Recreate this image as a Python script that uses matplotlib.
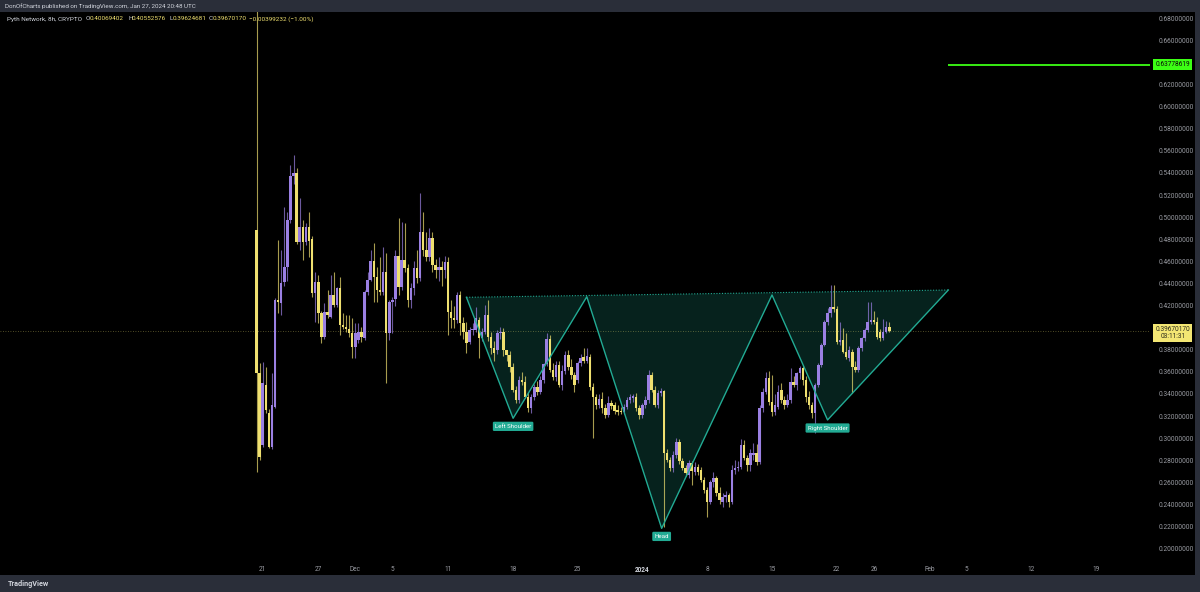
import matplotlib
matplotlib.use("Agg")
import matplotlib.pyplot as plt
import matplotlib.dates as mdates
import matplotlib.transforms as mtransforms
from matplotlib.patches import Rectangle
import numpy as np
import pandas as pd

plt.rcParams['font.family'] = ['Roboto', 'DejaVu Sans']

# ---- data: Pyth Network 8h candles ----
bar_times = pd.date_range("2023-11-20 08:00", periods=206, freq="8h")

opens = [
    .4884, .3587, .2938, .3481, .3228, .2923, .3285, .4251, .4224, .4416,
    .4552, .4975, .5374, .5397, .4778, .4914, .4778, .4914, .4800, .4311,
    .4416, .4130, .3919, .4145, .4100, .4296, .4206, .4356, .4024, .4010,
    .3990, .3949, .3828, .3889, .3964, .3904, .4326, .4432, .4604, .4462,
    .4341, .4326, .4507, .3955, .4236, .4257, .4649, .4371, .4613, .4537,
    .4251, .4356, .4537, .4450, .4869, .4703, .4643, .4810, .4567, .4522,
    .4552, .4522, .4597, .4145, .4085, .4070, .4296, .4040, .3964, .3874,
    .3979, .3979, .4070, .3904, .3964, .4115, .3919, .3813, .3798, .3949,
    .3964, .3798, .3753, .3647, .3437, .3346, .3527, .3512, .3376, .3271,
    .3376, .3466, .3421, .3527, .3670, .3895, .3618, .3550, .3660, .3482,
    .3610, .3753, .3647, .3570, .3527, .3678, .3738, .3700, .3738, .3466,
    .3376, .3300, .3357, .3271, .3210, .3318, .3300, .3250, .3246, .3240,
    .3286, .3346, .3361, .3376, .3271, .3210, .3300, .3346, .3572, .3437,
    .3300, .3410, .3425, .2866, .2803, .2728, .2848, .2969, .2790, .2728,
    .2668, .2773, .2697, .2742, .2712, .2621, .2532, .2426, .2600, .2640,
    .2501, .2426, .2471, .2486, .2426, .2712, .2728, .2742, .2938, .2818,
    .2757, .2850, .2863, .2787, .3270, .3421, .3542, .3331, .3240, .3285,
    .3436, .3346, .3301, .3346, .3511, .3482, .3587, .3632, .3527, .3376,
    .3301, .3225, .3482, .3662, .3844, .4054, .4130, .4190, .4166, .3873,
    .3889, .3783, .3723, .3783, .3647, .3617, .3813, .3904, .3979, .4054,
    .4070, .4054, .3964, .3904, .3964, .4007,
]
highs = [
    .7200, .3680, .3690, .3647, .3260, .3590, .4268, .4794, .4703, .5095,
    .5050, .5472, .5563, .5445, .5174, .4975, .4950, .5050, .4830, .4507,
    .4477, .4150, .4221, .4341, .4477, .4507, .4372, .4462, .4130, .4115,
    .4115, .4085, .4040, .4040, .4010, .4341, .4507, .4703, .4763, .4552,
    .4643, .4733, .4673, .4251, .4280, .4700, .4990, .4960, .4945, .4580,
    .4400, .4600, .4700, .5216, .5050, .4870, .4900, .4870, .4620, .4640,
    .4600, .4650, .4640, .4250, .4200, .4320, .4330, .4100, .4050, .4010,
    .4040, .4190, .4100, .4000, .4206, .4251, .3960, .3880, .3980, .4010,
    .4000, .3800, .3790, .3680, .3470, .3560, .3600, .3560, .3420, .3400,
    .3490, .3520, .3560, .3680, .3949, .3930, .3680, .3700, .3700, .3660,
    .3790, .3800, .3720, .3600, .3700, .3760, .3813, .3813, .3760, .3500,
    .3400, .3400, .3420, .3310, .3380, .3350, .3330, .3300, .3280, .3310,
    .3370, .3400, .3400, .3410, .3300, .3320, .3380, .3618, .3600, .3470,
    .3440, .3450, .3440, .2900, .2830, .2880, .3000, .2990, .2820, .2760,
    .2800, .2790, .2780, .2770, .2740, .2650, .2560, .2620, .2690, .2660,
    .2560, .2500, .2520, .2500, .2760, .2800, .2790, .2990, .2980, .2850,
    .2900, .2960, .2950, .3300, .3450, .3600, .3610, .3572, .3400, .3480,
    .3500, .3380, .3400, .3632, .3560, .3600, .3650, .3660, .3560, .3430,
    .3330, .3500, .3680, .3860, .4070, .4180, .4386, .4386, .4200, .4050,
    .4000, .3950, .3830, .3810, .3700, .3830, .3920, .4000, .4235, .4235,
    .4150, .4100, .3990, .4080, .4060, .4055,
]
lows = [
    .2696, .2803, .2923, .3228, .2910, .2900, .3270, .4133, .4115, .4380,
    .4420, .4950, .5300, .4760, .4703, .4613, .4750, .4643, .4281, .4054,
    .4040, .3859, .3900, .4085, .4085, .4190, .4190, .3934, .3990, .3960,
    .3919, .3723, .3723, .3860, .3874, .3890, .4300, .4420, .4236, .4236,
    .4300, .4300, .3497, .3889, .3950, .4200, .4300, .4341, .4500, .4190,
    .4180, .4300, .4400, .4420, .4650, .4600, .4600, .4500, .4450, .4420,
    .4380, .4450, .3934, .4000, .4000, .4040, .3934, .3900, .3768, .3850,
    .3930, .3960, .3725, .3880, .3940, .3880, .3760, .3700, .3760, .3900,
    .3740, .3700, .3600, .3420, .3318, .3320, .3480, .3360, .3240, .3230,
    .3350, .3390, .3400, .3500, .3650, .3600, .3530, .3520, .3460, .3440,
    .3580, .3620, .3540, .3420, .3500, .3650, .3680, .3680, .3440, .3000,
    .3260, .3270, .3230, .3180, .3190, .3260, .3220, .3210, .3220, .3220,
    .3260, .3320, .3330, .3250, .3170, .3180, .3270, .3320, .3420, .3280,
    .3270, .3380, .2200, .2780, .2700, .2690, .2820, .2770, .2710, .2660,
    .2640, .2577, .2670, .2670, .2600, .2500, .2290, .2400, .2560, .2480,
    .2400, .2380, .2420, .2380, .2400, .2680, .2700, .2720, .2800, .2700,
    .2700, .2800, .2760, .2770, .3240, .3400, .3300, .3200, .3210, .3260,
    .3320, .3260, .3280, .3320, .3460, .3440, .3540, .3480, .3330, .3260,
    .3180, .3044, .3460, .3640, .3830, .4020, .4100, .4140, .3850, .3840,
    .3770, .3720, .3700, .3406, .3600, .3600, .3790, .3880, .3960, .4030,
    .4030, .3900, .3880, .3890, .3950, .3962,
]
closes = [
    .3587, .2833, .3497, .3255, .2923, .3300, .4251, .4233, .4405, .4552,
    .4975, .5374, .5397, .4778, .4914, .4778, .4914, .4787, .4311, .4416,
    .4130, .3919, .4145, .4115, .4296, .4206, .4356, .4024, .4010, .3990,
    .3949, .3828, .3949, .3964, .3919, .4326, .4432, .4604, .4462, .4341,
    .4326, .4507, .3955, .4236, .4250, .4649, .4371, .4613, .4537, .4251,
    .4356, .4537, .4450, .4869, .4703, .4643, .4810, .4567, .4522, .4552,
    .4522, .4597, .4145, .4085, .4070, .4296, .4040, .3964, .3859, .3979,
    .3989, .4085, .3904, .3964, .4115, .3919, .3813, .3770, .3949, .3964,
    .3798, .3753, .3647, .3437, .3346, .3527, .3512, .3376, .3271, .3376,
    .3466, .3421, .3527, .3670, .3895, .3618, .3550, .3660, .3482, .3610,
    .3753, .3647, .3570, .3482, .3678, .3723, .3700, .3745, .3466, .3376,
    .3300, .3357, .3271, .3210, .3318, .3290, .3250, .3240, .3236, .3280,
    .3346, .3376, .3380, .3271, .3210, .3300, .3346, .3572, .3437, .3300,
    .3410, .3425, .2866, .2803, .2728, .2848, .2969, .2790, .2728, .2683,
    .2773, .2700, .2742, .2697, .2621, .2532, .2426, .2600, .2640, .2501,
    .2440, .2471, .2486, .2426, .2712, .2728, .2742, .2938, .2818, .2757,
    .2863, .2870, .2787, .3270, .3421, .3542, .3331, .3240, .3301, .3421,
    .3346, .3301, .3346, .3511, .3482, .3587, .3632, .3527, .3376, .3301,
    .3225, .3482, .3662, .3844, .4054, .4130, .4190, .4166, .3873, .3889,
    .3783, .3738, .3798, .3647, .3617, .3813, .3904, .3979, .4054, .4070,
    .4054, .3919, .3904, .3964, .4007, .3967,
]

# head & shoulders drawing
pattern_times = ["2023-12-13 00:00", "2023-12-18 01:00", "2023-12-26 00:00",
                 "2024-01-03 02:00", "2024-01-15 00:00", "2024-01-21 00:00",
                 "2024-02-03 01:00"]
pattern_prices = [0.4275, 0.3180, 0.4280, 0.2184, 0.4296, 0.3165, 0.4341]
pattern_labels = {1: "Left Shoulder", 3: "Head", 5: "Right Shoulder"}

target_price = 0.63778619
target_start = "2024-02-03 00:00"
last_price = 0.39670170

# 0.40 and 0.64 sit under the price labels, so they are left out
y_ticks = [0.20, 0.22, 0.24, 0.26, 0.28, 0.30, 0.32, 0.34, 0.36, 0.38,
           0.42, 0.44, 0.46, 0.48, 0.50, 0.52, 0.54, 0.56, 0.58, 0.60, 0.62,
           0.66, 0.68]
x_tick_dates = ["2023-11-21", "2023-11-27", "2023-12-01", "2023-12-05",
                "2023-12-11", "2023-12-18", "2023-12-25", "2024-01-01",
                "2024-01-08", "2024-01-15", "2024-01-22", "2024-01-26",
                "2024-02-01", "2024-02-05", "2024-02-12", "2024-02-19"]
x_tick_labels = ["21", "27", "Dec", "5", "11", "18", "25", "2024", "8", "15",
                 "22", "26", "Feb", "5", "12", "19"]

YELLOW = "#efe070"
PURPLE = "#9b80e3"
TEAL = "#22ab94"
GREEN = "#3cff14"
FRAME = "#2a2e39"
TXT = "#9a9ca3"

W, H = 1200, 592
fig = plt.figure(figsize=(12, 5.92), dpi=100, facecolor="black")
ax = fig.add_axes([0, 1 - 560 / H, 1150 / W, 548 / H])
ax.set_facecolor("black")

t = mdates.date2num(bar_times)
o = np.array(opens)
c = np.array(closes)
up = c >= o
cols = np.where(up, PURPLE, YELLOW)

ax.vlines(t, lows, highs, colors=cols, lw=0.8, alpha=0.7, zorder=2)
body = np.maximum(np.abs(c - o), 0.0012)
ax.bar(t, body, bottom=np.minimum(o, c), width=0.27, color=cols,
       linewidth=0, zorder=3)

# pattern
pt = mdates.date2num(pd.to_datetime(pattern_times))
ax.fill(pt, pattern_prices, color=TEAL, alpha=0.2, lw=0, zorder=1)
ax.plot(pt, pattern_prices, color=TEAL, lw=1.0, zorder=4)
ax.plot([pt[0], pt[-1]], [pattern_prices[0], pattern_prices[-1]], color=TEAL,
        lw=0.8, ls=(0, (1, 1.5)), zorder=4)
for i, name in pattern_labels.items():
    ax.annotate(name, (pt[i], pattern_prices[i]), xytext=(0, -5.8),
                textcoords="offset points", ha="center", va="center",
                fontsize=4.4, color="white", zorder=6,
                bbox=dict(boxstyle="round,pad=0.35,rounding_size=0.2",
                          fc=TEAL, ec="none"))

# target line
x0 = mdates.date2num(pd.Timestamp("2023-11-21")) - 262.7 / 9.26
x1 = mdates.date2num(pd.Timestamp("2023-11-21")) + (1150 - 262.7) / 9.26
ax.hlines(target_price, mdates.date2num(pd.Timestamp(target_start)), x1,
          color=GREEN, lw=1.3, zorder=4)

# last price line
ax.axhline(last_price, color=YELLOW, lw=0.6, alpha=0.45, ls=(0, (1, 2)),
           zorder=1)

ax.set_xlim(x0, x1)
ax.set_ylim(0.69656 - 0.000905 * 560, 0.69656 - 0.000905 * 12)

ax.yaxis.tick_right()
ax.set_yticks(y_ticks)
ax.set_yticklabels([f"{v:.8f}" for v in y_ticks])
ax.set_xticks(mdates.date2num(pd.to_datetime(x_tick_dates)))
ax.set_xticklabels(x_tick_labels)
ax.tick_params(axis="y", length=0, pad=6, labelsize=4.7, labelcolor=TXT)
ax.tick_params(axis="x", length=0, pad=4.2, labelsize=4.7, labelcolor=TXT)
for lab in ax.get_xticklabels():
    if lab.get_text() == "2024":
        lab.set_color("#d1d4dc")
        lab.set_fontweight("bold")
for s in ax.spines.values():
    s.set_visible(False)

# price scale labels
blend = mtransforms.blended_transform_factory(ax.transAxes, ax.transData)
ax.text(1.0198, target_price, f"{target_price:.8f}", transform=blend,
        ha="center", va="center", fontsize=4.7, color="#0a0a0a", zorder=7,
        clip_on=False, bbox=dict(boxstyle="square,pad=0.3", fc=GREEN, ec="none"))
ax.text(1.0198, last_price + 0.0048, f"{last_price:.8f}\n03:11:31",
        transform=blend, ha="center", va="top", fontsize=4.7,
        color="#2a2a1a", linespacing=1.05, zorder=7, clip_on=False,
        bbox=dict(boxstyle="square,pad=0.3", fc="#f3e673", ec="none"))

# frame strips
fig.patches.append(Rectangle((0, 1 - 12 / H), 1, 12 / H,
                             transform=fig.transFigure, fc=FRAME, ec="none"))
fig.patches.append(Rectangle((0, 0), 1, 17 / H,
                             transform=fig.transFigure, fc=FRAME, ec="none"))
fig.patches.append(Rectangle((1195 / W, 0), 5 / W, 1,
                             transform=fig.transFigure, fc=FRAME, ec="none"))

fig.text(5 / W, 1 - 6 / H, "DonOfCharts published on TradingView.com, Jan 27, 2024 20:48 UTC",
         fontsize=4.5, color="#d1d4dc", va="center")
fig.text(8 / W, 8.5 / H, "TradingView", fontsize=5.2, color="#d1d4dc",
         va="center", fontweight="bold")

# legend line (OHLC)
hy = 1 - 19 / H
fig.text(7.3 / W, hy, "Pyth Network, 8h, CRYPTO", fontsize=4.6, color="#d1d4dc", va="center")
for px, s, col in [(85.7, "O", "#d1d4dc"), (90, "0.40069402", YELLOW),
                   (128.3, "H", "#d1d4dc"), (132, "0.40552576", YELLOW),
                   (169, "L", "#d1d4dc"), (173, "0.39624681", YELLOW),
                   (209, "C", "#d1d4dc"), (213, "0.39670170", YELLOW),
                   (249, "\u22120.00399232 (\u22121.00%)", YELLOW)]:
    fig.text(px / W, hy, s, fontsize=4.6, color=col, va="center")

fig.savefig("out.png", dpi=100, facecolor="black")
